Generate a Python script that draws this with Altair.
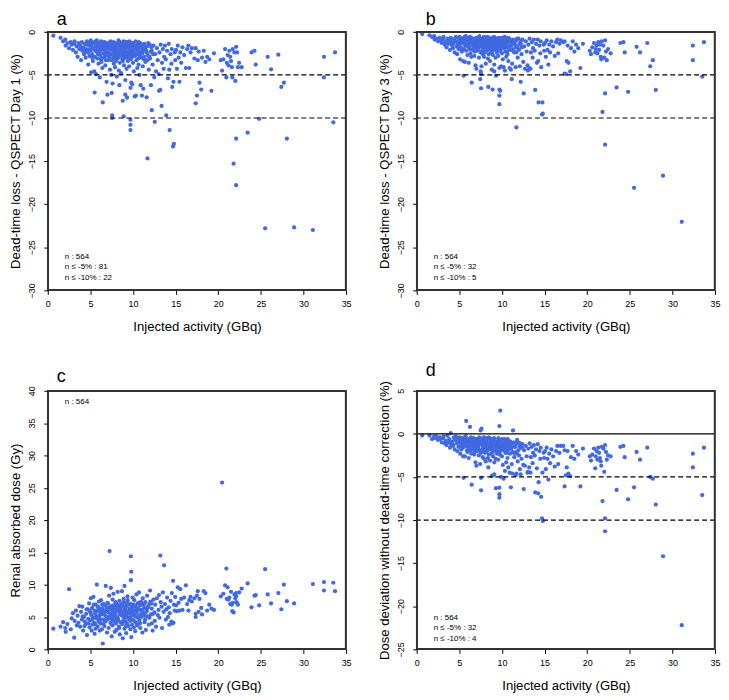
import altair as alt
import pandas as pd

# ---------------- data ----------------
# injected activity (GBq), shared by the four panels
activity = (
    [0.65, 1.5, 1.8, 2.05, 2.1, 2.3, 2.5, 2.7, 2.8, 2.95]
    + [3.1, 3.15, 3.3, 3.4, 3.5, 3.6, 3.7, 3.8, 3.9, 4.0, 4.05, 4.15, 4.25, 4.35, 4.45, 4.5, 4.6, 4.7, 4.75, 4.85, 4.9, 4.95]
    + [5.0, 5.05, 5.1, 5.15, 5.2, 5.25, 5.3, 5.35, 5.45, 5.5]
    + [5.5, 5.55, 5.6, 5.65, 5.7, 5.75, 5.8, 5.85, 5.9, 5.95]
    + [6.0, 6.05, 6.1, 6.15, 6.2, 6.25, 6.3, 6.35, 6.4, 6.45]
    + [6.5, 6.55, 6.6, 6.65, 6.7, 6.75, 6.8, 6.85, 6.9, 6.95]
    + [7.0, 7.0, 7.05, 7.1, 7.15, 7.2, 7.25, 7.3, 7.35, 7.4]
    + [7.45, 7.5, 7.5, 7.55, 7.55, 7.6, 7.6, 7.65, 7.7, 7.75]
    + [7.8, 7.85, 7.9, 7.95, 8.0, 8.0, 8.05, 8.1, 8.15, 8.2]
    + [8.25, 8.3, 8.35, 8.4, 8.4, 8.45, 8.5, 8.55, 8.6, 8.65]
    + [8.7, 8.75, 8.8, 8.8, 8.85, 8.9, 8.9, 8.95]
    + [9.0, 9.0, 9.05, 9.1, 9.1, 9.15, 9.2, 9.25, 9.3, 9.3]
    + [9.35, 9.4, 9.45, 9.5, 9.55, 9.6, 9.7, 9.7, 9.7, 9.7]
    + [9.75, 9.75, 9.8, 9.8, 9.85, 9.9, 9.95, 10.0, 10.05, 10.1]
    + [10.15, 10.2, 10.25, 10.3, 10.35, 10.4, 10.45, 10.5, 10.55, 10.6]
    + [10.65, 10.7, 10.75, 10.8, 10.85, 10.9, 10.95]
    + [11.0, 11.05, 11.1, 11.15, 11.2, 11.3, 11.35, 11.45, 11.5, 11.6]
    + [11.65, 11.7, 11.75, 11.85, 11.95, 12.0, 12.1, 12.2, 12.2, 12.3]
    + [12.4, 12.5, 12.55, 12.6, 12.7, 12.8, 12.9, 13.0]
    + [13.05, 13.1, 13.2, 13.25, 13.35, 13.4, 13.5, 13.6, 13.65, 13.75]
    + [13.85, 13.9, 14.0, 14.1, 14.2, 14.25, 14.3, 14.4, 14.5, 14.55]
    + [14.6, 14.7, 14.75, 14.8, 14.9, 14.95]
    + [15.05, 15.15, 15.25, 15.35, 15.45, 15.55, 15.65, 15.8, 16.0, 16.2]
    + [16.35, 16.5, 16.6, 16.75, 16.9]
    + [17.2, 17.35, 17.35, 17.5, 17.6, 17.7, 17.8, 18.0, 18.1, 18.3]
    + [18.5, 18.7, 18.95, 19.2, 19.5]
    + [20.3, 20.45, 20.6, 20.8, 20.95, 21.0, 21.1, 21.2, 21.3, 21.4]
    + [21.5, 21.6, 21.65, 21.7, 21.8, 21.9, 22.0, 22.1, 22.1, 22.1]
    + [22.2, 22.3, 22.45, 22.75]
    + [23.45, 23.9, 24.25, 24.4, 24.8, 25.5, 25.8, 26.2, 27.05, 27.4]
    + [27.7, 28.05, 28.9, 31.1, 32.4, 32.4, 33.5, 33.7]
    # dense core of the cloud
    + [4.1, 4.3, 4.55, 4.8, 5.02, 5.22, 5.4, 5.58, 5.78, 5.98]
    + [6.08, 6.22, 6.38, 6.52, 6.68, 6.82, 6.98, 7.08, 7.22, 7.38]
    + [7.48, 7.62, 7.72, 7.88, 7.98, 8.08, 8.18, 8.28, 8.38, 8.48]
    + [8.58, 8.68, 8.78, 8.88, 8.98, 9.08, 9.18, 9.28, 9.38, 9.48]
    + [9.58, 9.68, 9.78, 9.88, 9.98, 10.08, 10.22, 10.38, 10.52, 10.68]
    + [10.82, 10.98, 11.12, 11.28, 11.42, 11.58, 11.78, 11.92, 12.15, 12.35]
    + [5.62, 5.88, 6.12, 6.42, 6.72, 6.92, 7.12, 7.32, 7.52, 7.68]
    + [7.82, 8.02, 8.22, 8.42, 8.62, 8.82, 9.02, 9.22, 9.42, 9.62]
    + [9.82, 10.02, 10.18, 10.42, 10.62, 10.88, 11.08, 11.38, 11.68, 12.05]
)

# panel a: dead-time loss, QSPECT day 1 (%)
loss_day1 = (
    [-0.45, -0.7, -1.1, -0.9, -1.6, -1.3, -1.9, -1.2, -1.5, -2.1]
    + [-1.4, -1.1, -2.4, -1.7, -2.9, -1.3, -2.0, -1.6, -3.3, -1.2, -2.2, -1.8, -2.6, -1.4, -3.0, -2.0, -1.1, -2.4, -3.8, -1.6, -2.8, -1.3]
    + [-2.2, -1.0, -4.7, -1.8, -2.6, -1.4, -3.4, -2.0, -4.6, -7.05]
    + [-1.2, -2.9, -1.7, -4.9, -2.3, -1.0, -3.1, -1.5, -2.6, -3.7]
    + [-1.3, -2.1, -5.3, -1.8, -2.8, -1.1, -3.5, -2.0, -4.2, -8.2]
    + [-1.6, -2.5, -3.0, -1.2, -2.2, -3.9, -1.5, -2.7, -5.8, -1.9]
    + [-7.3, -1.3, -2.4, -3.3, -1.7, -2.9, -2.0, -4.4, -1.1, -2.6]
    + [-5.0, -7.1, -1.5, -9.7, -10.0, -3.1, -6.0, -2.2, -1.2, -3.7]
    + [-2.5, -1.8, -4.1, -2.0, -3.4, -1.4, -2.7, -5.2, -1.6, -2.3]
    + [-3.0, -1.0, -4.5, -6.2, -2.1, -3.6, -1.7, -2.8, -4.8, -1.3]
    + [-2.5, -3.2, -8.0, -1.9, -2.6, -9.8, -1.1, -3.9]
    + [-2.2, -1.5, -3.0, -7.3, -5.6, -1.8, -2.7, -4.3, -7.65, -1.2]
    + [-2.4, -3.4, -1.6, -2.9, -4.0, -1.4, -10.2, -10.8, -11.4, -6.5]
    + [-2.1, -3.2, -5.9, -1.9, -2.6, -6.1, -1.3, -3.6, -2.3, -4.6]
    + [-1.7, -7.5, -2.8, -1.1, -7.4, -3.3, -2.0, -4.2, -1.5, -2.6]
    + [-3.8, -1.9, -5.0, -2.4, -1.3, -6.2, -3.0]
    + [-1.8, -7.4, -2.5, -4.0, -6.6, -1.4, -2.9, -3.5, -2.1, -7.6]
    + [-1.7, -14.7, -2.7, -4.4, -1.5, -3.1, -6.2, -9.1, -2.2, -3.8]
    + [-1.6, -5.3, -10.45, -2.6, -4.6, -1.9, -3.3, -4.9]
    + [-6.85, -2.4, -6.75, -1.5, -8.6, -3.6, -2.0, -4.3, -2.9, -1.6]
    + [-3.2, -9.7, -2.2, -5.4, -1.4, -4.4, -11.4, -2.6, -3.7, -2.0]
    + [-6.4, -13.3, -5.8, -13.0, -2.4, -3.3]
    + [-2.1, -4.3, -1.6, -3.0, -5.8, -2.4, -3.6, -1.8, -2.7, -4.2]
    + [-2.0, -1.6, -4.2, -2.4, -1.9]
    + [-3.1, -8.3, -1.9, -7.4, -3.3, -2.3, -5.9, -6.7, -3.0, -2.2]
    + [-3.5, -2.9, -3.2, -6.85, -2.5]
    + [-3.3, -4.5, -3.2, -2.0, -5.3, -3.6, -2.7, -3.9, -2.2, -2.9]
    + [-3.4, -4.1, -5.3, -2.0, -15.3, -2.4, -5.7, -17.8, -12.4, -1.75]
    + [-2.4, -4.1, -3.6, -4.1]
    + [-11.7, -2.4, -2.2, -3.8, -10.1, -22.8, -2.9, -4.35, -2.65, -6.4]
    + [-5.9, -12.4, -22.7, -23.0, -2.9, -5.3, -10.5, -2.4]
    + [-1.9, -2.3, -1.5, -2.1, -1.6, -3.0, -1.3, -2.2, -1.8, -2.5]
    + [-1.5, -3.2, -1.2, -2.0, -1.7, -3.3, -2.4, -1.6, -2.6, -1.4]
    + [-2.1, -1.8, -2.9, -1.3, -2.6, -1.9, -3.1, -1.5, -2.4, -1.2]
    + [-2.0, -1.7, -2.9, -1.4, -2.3, -1.2, -2.2, -3.0, -1.8, -2.5]
    + [-1.1, -2.3, -1.6, -2.9, -1.5, -2.0, -2.5, -1.6, -2.2, -1.2]
    + [-2.8, -1.6, -2.1, -3.2, -1.8, -2.4, -1.3, -2.9, -1.8, -2.6]
    + [-1.1, -2.0, -2.4, -1.5, -2.8, -1.4, -2.7, -1.9, -3.3, -1.6]
    + [-3.0, -2.2, -1.3, -2.7, -2.2, -3.4, -1.3, -1.6, -2.7, -2.0]
    + [-3.0, -1.4, -2.6, -1.8, -3.1, -1.6, -2.3, -1.7, -3.3, -2.3]
)

# panel b: dead-time loss, QSPECT day 3 (%)
loss_day3 = (
    [-0.27, -0.4, -0.6, -0.5, -0.9, -0.8, -1.1, -0.7, -1.0, -1.3]
    + [-0.9, -0.6, -1.5, -1.2, -1.8, -0.8, -1.4, -1.0, -2.1, -0.7, -1.3, -1.6, -1.9, -0.9, -2.4, -1.1, -0.6, -1.7, -2.6, -1.2, -2.0, -0.8]
    + [-1.5, -0.6, -3.2, -1.0, -1.8, -0.9, -2.3, -1.3, -3.4, -5.1]
    + [-0.8, -2.0, -1.1, -3.5, -1.6, -0.5, -2.2, -1.0, -1.4, -2.7]
    + [-0.7, -1.7, -3.6, -1.2, -1.9, -0.6, -2.5, -1.0, -2.9, -5.9]
    + [-1.3, -1.6, -2.1, -0.8, -1.4, -2.8, -0.9, -1.8, -3.9, -1.2]
    + [-4.3, -0.7, -1.6, -2.2, -1.0, -2.0, -1.3, -3.0, -0.5, -1.7]
    + [-5.5, -4.6, -1.0, -6.55, -4.9, -2.3, -4.0, -1.5, -0.8, -2.6]
    + [-1.8, -1.1, -2.9, -1.4, -2.4, -0.9, -1.9, -3.7, -1.2, -1.6]
    + [-2.1, -0.6, -3.1, -6.4, -1.3, -2.6, -1.0, -2.0, -3.4, -0.9]
    + [-1.7, -2.3, -4.4, -1.2, -1.8, -6.7, -0.7, -2.7]
    + [-1.5, -1.0, -2.1, -4.6, -3.8, -1.2, -1.9, -3.0, -5.1, -0.8]
    + [-1.6, -2.4, -1.1, -2.0, -2.8, -0.8, -6.7, -7.4, -8.4, -4.2]
    + [-1.4, -2.2, -6.85, -1.3, -1.8, -4.0, -0.7, -2.5, -1.6, -3.2]
    + [-1.1, -4.1, -1.9, -0.6, -4.5, -2.3, -1.3, -2.9, -0.9, -1.8]
    + [-2.6, -1.2, -3.4, -1.7, -0.8, -4.2, -2.1]
    + [-1.1, -4.4, -1.6, -5.5, -3.7, -0.9, -2.0, -2.4, -1.3, -4.1]
    + [-1.0, -11.1, -1.8, -3.0, -0.8, -2.1, -4.0, -5.8, -1.4, -2.6]
    + [-0.9, -3.5, -7.15, -1.7, -4.3, -1.1, -2.3, -3.9]
    + [-4.5, -1.5, -4.2, -0.8, -4.3, -2.4, -1.2, -3.0, -1.9, -0.9]
    + [-2.2, -6.75, -1.4, -3.6, -0.9, -3.4, -8.2, -1.6, -2.5, -1.1]
    + [-4.1, -9.6, -8.2, -9.5, -1.5, -2.2]
    + [-1.3, -2.9, -1.0, -2.1, -3.8, -1.5, -2.4, -1.1, -1.7, -2.8]
    + [-1.2, -0.9, -2.5, -1.4, -1.0]
    + [-1.2, -4.85, -1.1, -4.9, -3.4, -1.6, -3.6, -4.6, -1.9, -1.1]
    + [-2.3, -1.5, -1.9, -4.2, -1.4]
    + [-2.2, -2.6, -1.8, -1.3, -2.4, -2.0, -1.6, -2.5, -1.2, -2.1]
    + [-1.5, -2.9, -3.2, -1.1, -9.3, -1.6, -3.0, -13.1, -7.15, -1.0]
    + [-2.3, -3.3, -2.0, -2.5]
    + [-6.45, -1.3, -1.2, -2.4, -6.97, -18.1, -1.75, -2.4, -1.3, -4.0]
    + [-3.3, -6.75, -16.7, -22.05, -1.6, -3.3, -5.2, -1.2]
    + [-1.0, -1.4, -0.7, -1.5, -1.1, -2.0, -0.8, -1.4, -1.2, -1.7]
    + [-0.9, -2.0, -0.7, -1.1, -1.0, -2.3, -1.5, -0.9, -1.8, -0.8]
    + [-1.2, -1.3, -2.0, -0.6, -1.7, -1.0, -2.2, -0.8, -1.5, -0.7]
    + [-1.3, -1.1, -2.1, -0.9, -1.4, -0.6, -1.5, -2.0, -1.2, -1.7]
    + [-0.7, -1.5, -1.0, -2.0, -0.9, -1.3, -1.7, -1.0, -1.5, -0.7]
    + [-1.9, -1.0, -1.4, -2.2, -1.2, -1.6, -0.8, -2.0, -1.2, -1.8]
    + [-0.6, -1.2, -1.5, -1.0, -1.9, -0.8, -1.9, -1.1, -2.4, -1.0]
    + [-2.1, -1.6, -0.7, -1.9, -1.4, -2.5, -0.8, -1.0, -1.8, -1.3]
    + [-2.2, -0.8, -1.8, -1.1, -2.3, -1.0, -1.6, -1.1, -2.4, -1.5]
)

# panel c: renal absorbed dose (Gy)
renal_dose = (
    [3.2, 3.5, 4.2, 3.3, 2.7, 3.9, 9.3, 3.1, 4.8, 5.6]
    + [1.8, 4.4, 6.0, 3.7, 5.2, 4.1, 6.7, 3.5, 5.8, 4.6, 6.6, 2.9, 5.0, 4.3, 3.9, 5.5, 2.2, 6.2, 4.7, 7.1, 3.4, 5.9]
    + [4.5, 7.9, 5.3, 2.9, 6.4, 3.8, 5.0, 8.1, 4.1, 6.0]
    + [2.4, 5.6, 3.2, 6.9, 4.8, 10.0, 5.9, 3.5, 6.5, 4.4]
    + [7.4, 5.2, 2.9, 6.1, 4.0, 7.6, 5.4, 3.1, 6.3, 0.9]
    + [4.6, 7.0, 5.7, 3.6, 6.8, 4.3, 9.8, 5.1, 6.4, 2.6]
    + [5.8, 7.2, 4.9, 6.0, 3.3, 8.3, 15.2, 5.5, 4.1, 9.5]
    + [6.7, 5.2, 2.0, 4.6, 6.3, 7.7, 3.7, 5.9, 8.6, 4.4]
    + [6.5, 2.7, 5.4, 7.3, 4.0, 6.1, 3.0, 6.9, 5.0, 8.9]
    + [4.7, 6.6, 3.5, 5.7, 7.5, 2.3, 6.2, 4.2, 7.0, 5.3]
    + [9.0, 3.9, 1.7, 6.8, 5.6, 4.5, 7.8, 6.0]
    + [3.2, 9.8, 5.1, 6.4, 4.3, 7.2, 2.5, 6.7, 5.5, 4.0]
    + [8.2, 5.8, 3.6, 7.0, 4.8, 6.3, 5.9, 4.4, 3.1, 6.9]
    + [14.4, 10.7, 12.0, 1.9, 5.3, 6.5, 8.0, 4.6, 6.0, 3.4]
    + [7.6, 5.2, 2.8, 6.6, 4.1, 8.5, 5.7, 3.7, 7.1, 4.9]
    + [6.2, 8.8, 4.5, 6.8, 3.3, 5.4, 7.4]
    + [5.0, 6.1, 2.6, 7.9, 5.6, 6.4, 4.2, 7.3, 3.0, 6.0]
    + [8.3, 5.1, 6.7, 3.8, 7.0, 9.1, 5.4, 4.0, 6.3, 2.9]
    + [7.7, 5.7, 4.4, 6.9, 3.5, 7.9, 5.3, 6.1]
    + [8.4, 4.9, 14.5, 7.3, 6.6, 3.3, 8.8, 5.8, 13.0, 7.0]
    + [4.6, 6.2, 8.0, 5.0, 6.5, 3.8, 5.6, 7.5, 4.3, 8.7]
    + [4.0, 10.6, 4.1, 6.9, 6.0, 8.1]
    + [6.8, 5.9, 9.6, 7.2, 6.0, 9.3, 7.8, 6.1, 8.0, 9.9]
    + [7.0, 6.0, 7.6, 8.1, 7.4]
    + [7.9, 5.5, 5.0, 8.3, 9.0, 5.8, 7.8, 6.4, 5.4, 9.0]
    + [8.7, 6.0, 6.9, 6.3, 6.1]
    + [8.2, 25.8, 8.6, 9.9, 12.5, 7.8, 9.6, 7.7, 8.0, 7.0]
    + [8.9, 6.9, 5.9, 7.2, 5.7, 8.5, 7.9, 8.2, 7.3, 8.7]
    + [7.2, 6.9, 8.8, 9.4]
    + [10.2, 6.5, 8.3, 8.4, 6.8, 12.4, 8.5, 7.1, 8.7, 6.2]
    + [10.0, 7.45, 7.1, 10.1, 10.4, 9.1, 10.3, 9.0]
    + [5.1, 3.6, 6.2, 4.0, 5.7, 4.6, 6.9, 3.9, 5.1, 6.4]
    + [4.2, 5.6, 6.9, 3.9, 5.3, 6.0, 4.6, 7.1, 5.0, 6.3]
    + [3.9, 5.5, 6.8, 4.8, 5.9, 7.0, 4.4, 6.4, 3.3, 5.4]
    + [6.6, 4.1, 5.9, 7.3, 4.9, 6.2, 3.6, 5.7, 7.6, 4.7]
    + [6.1, 5.0, 7.0, 3.8, 5.8, 6.9, 4.3, 6.2, 5.1, 7.2]
    + [4.0, 6.0, 5.3, 7.0, 4.6, 5.8, 6.5, 4.9, 7.1, 5.5]
    + [5.0, 6.6, 4.7, 5.8, 4.5, 6.0, 6.5, 4.8, 6.1, 5.1]
    + [5.6, 6.8, 4.6, 6.0, 5.9, 5.1, 6.3, 5.3, 4.9, 5.6]
    + [6.2, 5.4, 6.7, 5.0, 6.3, 6.1, 6.9, 5.2, 6.4, 7.4]
)

# panel d: dose deviation without dead-time correction (%)
dose_dev = (
    [-0.2, -0.2, -0.6, -0.3, -0.5, -0.3, -0.7, -0.4, -0.6, -1.0]
    + [-0.5, -0.3, -1.1, -0.8, -1.3, -0.2, -1.0, -0.6, -1.6, 0.1, -1.2, -0.9, -1.4, -0.4, -1.8, -0.7, -0.3, -1.1, -2.0, -0.8, -1.5, -0.5]
    + [-1.0, -0.4, -2.3, -0.9, -1.3, -0.6, -1.7, -1.1, -2.6, -5.1]
    + [-0.5, -1.5, -0.8, -2.6, -1.2, -0.3, 1.5, -0.7, -1.9, -2.1]
    + [-0.9, -1.3, -2.8, -1.0, -1.6, 0.8, -1.9, -1.1, -2.3, -5.9]
    + [-0.8, -1.4, -1.8, -0.5, -1.2, -2.4, -0.9, -1.7, -3.3, -1.0]
    + [-3.7, -0.6, -1.5, -2.0, -0.9, -1.6, -1.2, -2.5, -0.4, -1.9]
    + [-3.5, 0.4, -0.8, -6.55, -5.1, -2.1, 0.6, -1.3, -0.7, -2.7]
    + [-1.6, -1.0, -2.9, -1.1, -2.2, -0.6, -1.8, -3.2, -0.9, -1.4]
    + [-2.0, -0.5, -2.8, -3.9, -1.3, -2.4, -1.1, -1.7, -3.1, -0.7]
    + [-1.5, -2.3, -4.9, -1.2, -1.9, -4.8, -0.6, -2.6]
    + [-1.4, -1.0, -2.0, -4.7, -3.3, -1.1, -1.8, -2.9, -6.3, -0.9]
    + [-1.6, -2.3, -1.2, -2.1, -3.0, -0.8, -7.0, -7.4, -6.25, 0.9]
    + [-1.3, -2.4, 2.7, -1.4, -1.7, -5.0, -0.7, -2.6, -1.5, -3.6]
    + [-1.2, -5.2, -1.9, -0.6, -4.3, -2.2, -1.6, -3.3, -1.0, -2.0]
    + [-2.8, -1.3, -3.9, -1.8, -0.9, -4.5, -2.3]
    + [-1.2, -6.2, -1.7, -3.5, -4.6, 0.4, -2.2, -2.7, -1.5, -4.8]
    + [-1.1, -4.6, -2.1, -3.2, -1.0, -2.5, -4.1, -4.7, -1.6, -2.9]
    + [-1.2, -3.6, -6.4, -1.9, -3.7, -1.4, -2.6, -4.5]
    + [-4.4, -1.7, -3.9, -1.1, -4.5, -2.7, -1.5, -3.4, -2.2, -1.3]
    + [-2.5, -6.8, -1.8, -4.0, -1.2, -6.9, -5.6, -2.0, -2.9, -1.6]
    + [-7.3, -9.8, -4.5, -10.1, -2.2, -2.8]
    + [-2.0, -4.1, -1.6, -2.9, -5.3, -2.3, -3.4, -1.8, -2.6, -3.8]
    + [-2.0, -1.4, -3.5, -2.2, -1.4]
    + [-1.4, -6.1, -1.9, -4.8, -3.9, -2.0, -4.6, -4.9, -2.7, -1.4]
    + [-2.9, -2.0, -2.4, -6.1, -1.7]
    + [-2.6, -3.1, -2.4, -1.7, -4.0, -2.6, -2.0, -3.0, -1.6, -2.2]
    + [-2.8, -3.2, -3.7, -1.5, -7.8, -1.7, -4.4, -11.3, -9.8, -1.3]
    + [-2.1, -3.0, -2.5, -2.6]
    + [-6.5, -1.5, -1.4, -2.7, -7.6, -6.2, -2.1, -3.0, -1.6, -5.0]
    + [-5.2, -8.2, -14.2, -22.2, -2.3, -3.9, -7.1, -1.6]
    + [-0.9, -1.3, -0.5, -1.0, -0.8, -1.8, -0.5, -1.2, -0.9, -1.5]
    + [-0.6, -1.9, -0.4, -1.0, -0.8, -2.1, -1.3, -0.7, -1.5, -0.5]
    + [-1.0, -0.9, -1.8, -0.4, -1.4, -0.8, -2.0, -0.6, -1.3, -0.4]
    + [-1.1, -0.9, -1.8, -0.6, -1.3, -0.5, -1.2, -1.9, -0.9, -1.5]
    + [-0.5, -1.2, -0.8, -1.9, -0.7, -1.1, -1.6, -0.8, -1.3, -0.6]
    + [-1.7, -0.9, -1.2, -2.1, -1.0, -1.5, -0.7, -1.9, -1.1, -1.6]
    + [-0.4, -1.1, -1.4, -0.7, -1.6, -0.6, -1.6, -1.0, -2.2, -0.8]
    + [-1.9, -1.4, -0.5, -1.8, -1.3, -2.3, -0.6, -0.9, -1.7, -1.1]
    + [-2.0, -0.6, -1.7, -1.0, -2.2, -0.9, -1.5, -1.0, -2.3, -1.4]
)

x_ticks = [0, 5, 10, 15, 20, 25, 30, 35]
ticks_ab = [-30, -25, -20, -15, -10, -5, 0]
ticks_c = [0, 5, 10, 15, 20, 25, 30, 35, 40]
ticks_d = [-25, -20, -15, -10, -5, 0, 5]

notes_a = ["n : 564", "n \u2264 -5% : 81", "n \u2264 -10% : 22"]
notes_b = ["n : 564", "n \u2264 -5% : 32", "n \u2264 -10% : 5"]
notes_c = ["n : 564"]
notes_d = ["n : 564", "n \u2264 -5% : 32", "n \u2264 -10% : 4"]

# ---------------- chart ----------------
df = pd.DataFrame({
    "activity": activity,
    "day1": loss_day1,
    "day3": loss_day3,
    "renal": renal_dose,
    "dev": dose_dev,
})

FONT = "Liberation Sans"
BLUE = "#4169E1"
FRAME = "#333333"
W, H = 300, 260


def panel(letter, field, ytitle, ydomain, yticks, dashed, solid, notes, note_y0, note_step):
    xs = alt.Scale(domain=[0, 35], nice=False, zero=False)
    ys = alt.Scale(domain=ydomain, nice=False, zero=False)
    xa = alt.Axis(values=x_ticks, title="Injected activity (GBq)", labelFlush=False)
    ya = alt.Axis(values=yticks, title=ytitle)
    X = alt.X("activity:Q", scale=xs, axis=xa)
    Y = alt.Y(f"{field}:Q", scale=ys, axis=ya)

    layers = [alt.Chart(df).mark_circle(size=18, color=BLUE, opacity=1).encode(x=X, y=Y)]
    if dashed:
        layers.append(
            alt.Chart(pd.DataFrame({field: dashed}))
            .mark_rule(color="black", strokeWidth=1.2, strokeDash=[5, 3])
            .encode(y=Y)
        )
    if solid:
        layers.append(
            alt.Chart(pd.DataFrame({field: solid}))
            .mark_rule(color="black", strokeWidth=1.2)
            .encode(y=Y)
        )
    note_df = pd.DataFrame({
        "activity": [2.0] * len(notes),
        field: [note_y0 - i * note_step for i in range(len(notes))],
        "label": notes,
    })
    layers.append(
        alt.Chart(note_df)
        .mark_text(align="left", baseline="middle", fontSize=8, font=FONT, color="black")
        .encode(x=X, y=Y, text="label:N")
    )
    # R-style box: an unfilled rectangle over the whole plot area
    frame = pd.DataFrame({"k": [0]})
    layers.append(
        alt.Chart(frame)
        .mark_rect(fillOpacity=0, stroke=FRAME, strokeWidth=1.5, strokeOpacity=1)
        .encode(x=alt.value(0.5), x2=alt.value(W - 0.5), y=alt.value(0.5), y2=alt.value(H - 0.5))
    )
    return alt.layer(*layers).properties(
        width=W,
        height=H,
        title=alt.TitleParams(
            text=letter, anchor="start", frame="group", fontSize=18, font=FONT,
            fontWeight="normal", color="black", offset=0, dx=9,
        ),
    )


pa = panel("a", "day1", "Dead-time loss - QSPECT Day 1 (%)", [-30, 0], ticks_ab,
           [-5, -10], None, notes_a, -26.1, 1.25)
pb = panel("b", "day3", "Dead-time loss - QSPECT Day 3 (%)", [-30, 0], ticks_ab,
           [-5, -10], None, notes_b, -26.1, 1.25)
pc = panel("c", "renal", "Renal absorbed dose (Gy)", [0, 40], ticks_c,
           None, None, notes_c, 38.2, 1.6)
pd_ = panel("d", "dev", "Dose deviation without dead-time correction (%)", [-25, 5], ticks_d,
            [-5, -10], [0], notes_d, -21.35, 1.22)

chart = (
    alt.vconcat(
        alt.hconcat(pa, pb, spacing=25),
        alt.hconcat(pc, pd_, spacing=25),
        spacing=28,
    )
    .properties(padding=0)
    .configure_view(stroke=FRAME, strokeWidth=1.5)
    .configure_axis(
        labelFont=FONT, titleFont=FONT, labelFontSize=9, titleFontSize=13.2,
        titleFontWeight="normal", labelColor="black", titleColor="black",
        tickColor="black", tickSize=4, grid=False, titleLimit=400,
        domain=False,
    )
    .configure_axisX(labelPadding=5, titlePadding=12)
    .configure_axisY(labelAngle=270, labelPadding=7, titlePadding=5)
)

chart.save("out.html", embed_options={"renderer": "svg", "actions": False})
